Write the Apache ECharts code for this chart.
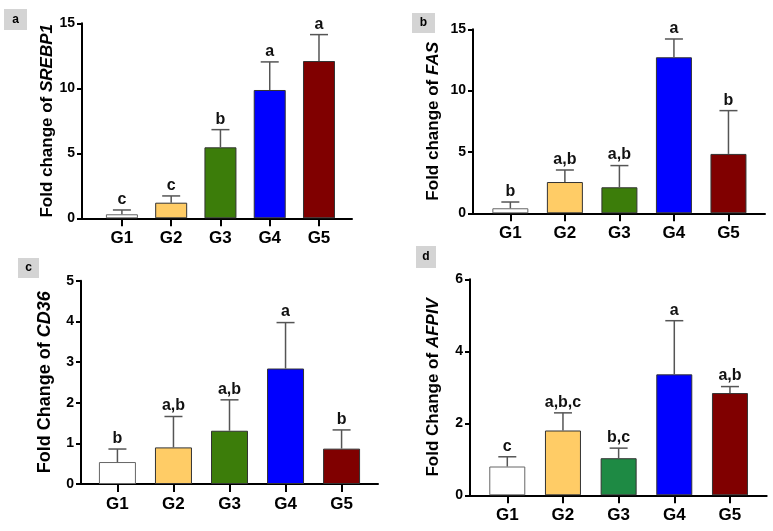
<!DOCTYPE html>
<html>
<head>
<meta charset="utf-8">
<title>Fold change</title>
<script src="https://cdn.jsdelivr.net/npm/echarts@6/dist/echarts.min.js"></script>
<style>
  html, body { margin: 0; padding: 0; background: #fff; }
  #main { width: 773px; height: 531px; }
</style>
</head>
<body>
<div id="main"></div>
<script>
// groups and colours
var groups = ['G1', 'G2', 'G3', 'G4', 'G5'];
var colorsABC = ['#ffffff', '#ffcc66', '#3c7d0a', '#0000ff', '#800000'];
var colorsD = ['#ffffff', '#ffcc66', '#1e8a44', '#0000ff', '#800000'];

// a - SREBP1
var srebp1Mean = [0.31, 1.2, 5.46, 9.87, 12.1];
var srebp1Upper = [0.64, 1.72, 6.82, 12.03, 14.13];
var srebp1Letters = ['c', 'c', 'b', 'a', 'a'];

// b - FAS
var fasMean = [0.41, 2.55, 2.12, 12.72, 4.84];
var fasUpper = [0.92, 3.53, 3.89, 14.21, 8.37];
var fasLetters = ['b', 'a,b', 'a,b', 'a', 'b'];

// c - CD36
var cd36Mean = [0.54, 0.90, 1.31, 2.84, 0.87];
var cd36Upper = [0.86, 1.66, 2.07, 3.97, 1.33];
var cd36Letters = ['b', 'a,b', 'a,b', 'a', 'b'];

// d - AFPIV
var afpivMean = [0.80, 1.80, 1.03, 3.36, 2.84];
var afpivUpper = [1.07, 2.29, 1.31, 4.85, 3.02];
var afpivLetters = ['c', 'a,b,c', 'b,c', 'a', 'a,b'];

var font = 'Arial, "Liberation Sans", sans-serif';

var panels = [
  { tag: 'a', pre: 'Fold change of ', gene: 'SREBP1', mean: srebp1Mean, upper: srebp1Upper, letters: srebp1Letters, colors: colorsABC,
    grid: { left: 82, top: 23.3, width: 270, height: 195 }, xmin: -0.81, xmax: 4.67, ymax: 15, step: 5, barW: 32, gap: 26, nameSize: 17,
    box: [4, 9, 23, 21] },
  { tag: 'b', pre: 'Fold change of ', gene: 'FAS', mean: fasMean, upper: fasUpper, letters: fasLetters, colors: colorsABC,
    grid: { left: 473, top: 29.3, width: 292, height: 184 }, xmin: -0.685, xmax: 4.67, ymax: 15, step: 5, barW: 36, gap: 31, nameSize: 17,
    box: [412, 13, 23, 20] },
  { tag: 'c', pre: 'Fold Change of ', gene: 'CD36', mean: cd36Mean, upper: cd36Upper, letters: cd36Letters, colors: colorsABC,
    grid: { left: 81, top: 280.7, width: 297, height: 203.3 }, xmin: -0.65, xmax: 4.65, ymax: 5, step: 1, barW: 37, gap: 27, nameSize: 18,
    box: [18, 258, 21, 20] },
  { tag: 'd', pre: 'Fold Change of ', gene: 'AFPIV', mean: afpivMean, upper: afpivUpper, letters: afpivLetters, colors: colorsD,
    grid: { left: 470, top: 279.3, width: 296.7, height: 216 }, xmin: -0.67, xmax: 4.66, ymax: 6, step: 2, barW: 36, gap: 28, nameSize: 17,
    box: [416, 246, 20, 22] }
];

var option = { animation: false, grid: [], xAxis: [], yAxis: [], series: [], graphic: [] };

panels.forEach(function (p, k) {
  option.grid.push(p.grid);
  option.xAxis.push({
    type: 'value', gridIndex: k, min: p.xmin, max: p.xmax,
    splitLine: { show: false },
    axisLine: { show: true, onZero: false, lineStyle: { color: '#000', width: 2 } },
    axisTick: { show: true, customValues: [0, 1, 2, 3, 4], length: 8, lineStyle: { color: '#000', width: 2 } },
    axisLabel: {
      customValues: [0, 1, 2, 3, 4], margin: 12,
      formatter: function (v) { return groups[Math.round(v)]; },
      color: '#000', fontWeight: 'bold', fontSize: 17, fontFamily: font
    }
  });
  option.yAxis.push({
    type: 'value', gridIndex: k, min: 0, max: p.ymax, interval: p.step,
    name: p.pre + '{i|' + p.gene + '}',
    nameLocation: 'middle', nameRotate: 90, nameGap: p.gap,
    nameTextStyle: {
      color: '#000', fontWeight: 'bold', fontSize: p.nameSize, fontFamily: font,
      rich: { i: { fontStyle: 'italic', fontWeight: 'bold', fontSize: p.nameSize, fontFamily: font, color: '#000' } }
    },
    splitLine: { show: false },
    axisLine: { show: true, onZero: false, lineStyle: { color: '#000', width: 2 } },
    axisTick: { show: true, length: 5, lineStyle: { color: '#000', width: 2 } },
    axisLabel: { color: '#000', fontWeight: 'bold', fontSize: 14, fontFamily: font, margin: 7 }
  });
  option.series.push({
    type: 'bar', xAxisIndex: k, yAxisIndex: k, barWidth: p.barW,
    data: p.mean.map(function (v, i) {
      return { value: [i, v], itemStyle: { color: p.colors[i], borderColor: i === 0 ? '#666' : '#333', borderWidth: 1 } };
    })
  });
  option.series.push({
    type: 'custom', xAxisIndex: k, yAxisIndex: k, z: 5,
    data: p.mean.map(function (v, i) { return [i, v, p.upper[i]]; }),
    renderItem: function (params, api) {
      var a = api.coord([api.value(0), api.value(1)]);
      var b = api.coord([api.value(0), api.value(2)]);
      var st = { stroke: '#555', lineWidth: 1.5 };
      return {
        type: 'group',
        children: [
          { type: 'line', shape: { x1: a[0], y1: a[1], x2: b[0], y2: b[1] }, style: st },
          { type: 'line', shape: { x1: b[0] - 9, y1: b[1], x2: b[0] + 9, y2: b[1] }, style: st },
          { type: 'text', x: b[0], y: b[1] - 10.5,
            style: { text: p.letters[params.dataIndex], textAlign: 'center', textVerticalAlign: 'middle',
                     font: 'bold 16px ' + font, fill: '#111' } }
        ]
      };
    }
  });
  option.graphic.push({
    type: 'rect', shape: { x: p.box[0], y: p.box[1], width: p.box[2], height: p.box[3] },
    style: { fill: '#d4d4d4' }
  });
  option.graphic.push({
    type: 'text', x: p.box[0] + p.box[2] / 2, y: p.box[1] + p.box[3] / 2,
    style: { text: p.tag, textAlign: 'center', textVerticalAlign: 'middle', font: 'bold 12px ' + font, fill: '#000' }
  });
});

var chart = echarts.init(document.getElementById('main'));
chart.setOption(option);
</script>
</body>
</html>
